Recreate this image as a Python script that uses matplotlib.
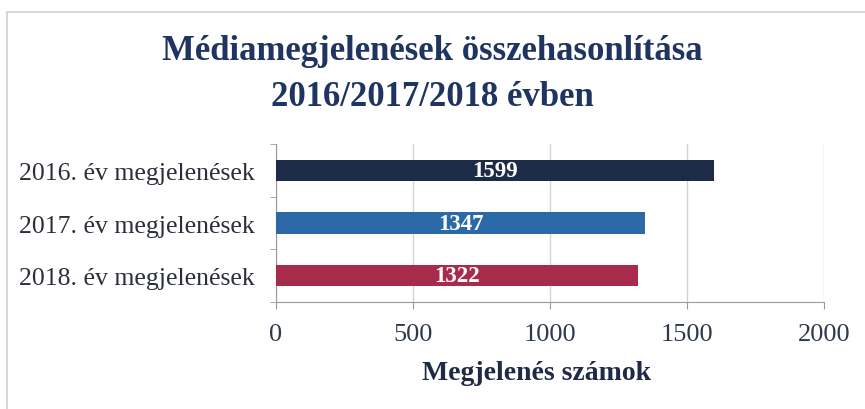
import matplotlib.pyplot as plt
from matplotlib.patches import Rectangle

categories = ['2016. év megjelenések', '2017. év megjelenések', '2018. év megjelenések']
values = [1599, 1347, 1322]
colors = ['#1e2b48', '#2b6aa6', '#a72c4c']
xticks = [0, 500, 1000, 1500, 2000]

plt.rcParams['font.family'] = ['Liberation Serif', 'DejaVu Serif']

fig = plt.figure(figsize=(8.65, 4.10), dpi=100)
ax = fig.add_axes([276 / 865, 1 - 303 / 410, 548 / 865, 158 / 410])

# chart frame from the scan
fig.patches.append(Rectangle((7 / 865, -0.1), 1.2, (410 - 13) / 410 + 0.1,
                             transform=fig.transFigure, fill=False,
                             edgecolor='#d0d0d0', lw=1.2))

ypos = range(len(categories))
bars = ax.barh(ypos, values, height=0.4, color=colors, zorder=3)
for b, v in zip(bars, values):
    ax.text(v / 2, b.get_y() + b.get_height() / 2, str(v), ha='center', va='center',
            color='white', fontsize=16.5, fontweight='bold', zorder=4)

ax.set_ylim(2.5, -0.5)
ax.set_xlim(0, 2000)
ax.set_xticks(xticks)
ax.set_yticks(ypos)
ax.set_yticklabels(categories)
ax.set_yticks([-0.5, 0.5, 1.5, 2.5], minor=True)
ax.tick_params(axis='y', which='major', length=0, labelsize=18.5, labelcolor='#2a2f3a', pad=15)
ax.tick_params(axis='y', which='minor', length=4, color='#9a9a9a')
ax.tick_params(axis='x', length=5, color='#9a9a9a', labelsize=19, labelcolor='#2e3a4a', pad=10)
ax.grid(axis='x', color='#d4d4d4', lw=1, zorder=0)
for s in ['top', 'right']:
    ax.spines[s].set_visible(False)
ax.spines['left'].set_color('#9a9a9a')
ax.spines['bottom'].set_color('#9a9a9a')

ax.set_xlabel('Megjelenés számok', fontsize=20, fontweight='bold', color='#1f2a44', labelpad=14)
ax.xaxis.set_label_coords(0.475, -0.37)

fig.text(0.5, 1 - 52 / 410, 'Médiamegjelenések összehasonlítása', ha='center', va='center',
         fontsize=25, fontweight='bold', color='#1f3461')
fig.text(0.5, 1 - 98 / 410, '2016/2017/2018 évben', ha='center', va='center',
         fontsize=25, fontweight='bold', color='#1f3461')

fig.savefig('out.png', dpi=100, facecolor='white')
